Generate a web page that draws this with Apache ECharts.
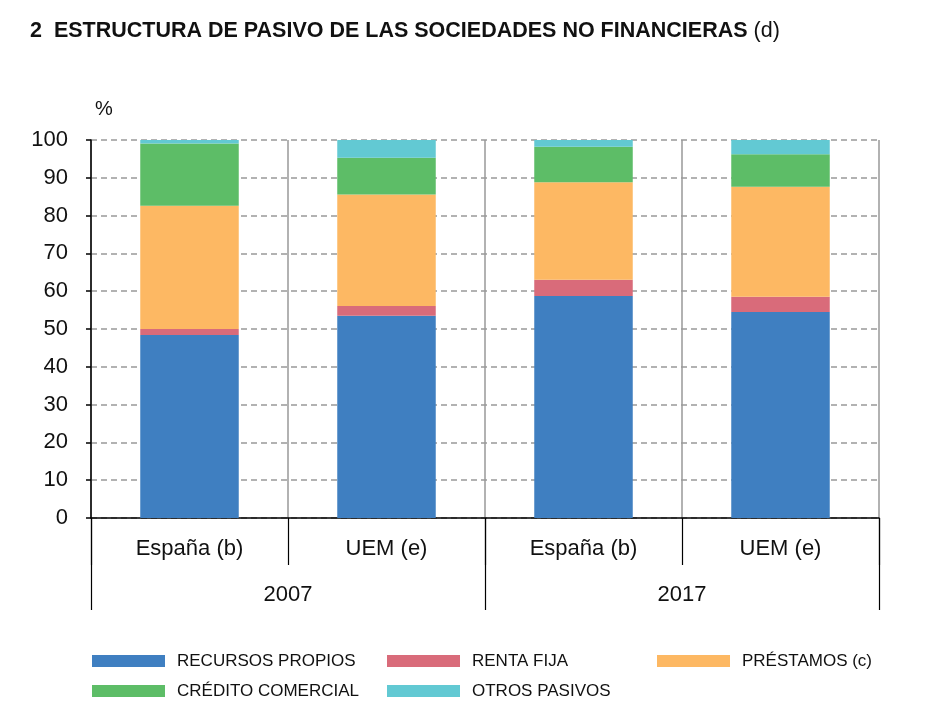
<!DOCTYPE html>
<html><head><meta charset="utf-8">
<script src="https://cdn.jsdelivr.net/npm/echarts@6/dist/echarts.min.js"></script>
<style>html,body{margin:0;padding:0;background:#fff}#c{width:950px;height:718px}</style>
</head><body><div id="c"></div>
<script>
const categories = ['España (b)', 'UEM (e)', 'España (b)', 'UEM (e)'];
const years = ['2007', '2017'];
const recursosPropios = [48.4, 53.5, 58.7, 54.5];
const rentaFija = [1.6, 2.6, 4.3, 4.0];
const prestamos = [32.6, 29.5, 25.8, 29.1];
const creditoComercial = [16.5, 9.7, 9.4, 8.6];
const otrosPasivos = [0.9, 4.7, 1.8, 3.8];
const yTicks = [0, 10, 20, 30, 40, 50, 60, 70, 80, 90, 100];

const FONT = '"Liberation Sans", Arial, sans-serif';
const chart = echarts.init(document.getElementById('c'), null, {renderer: 'canvas'});
const names = ['RECURSOS PROPIOS', 'RENTA FIJA', 'PRÉSTAMOS (c)', 'CRÉDITO COMERCIAL', 'OTROS PASIVOS'];
const colors = ['#3F7FC1', '#D96B7A', '#FDB863', '#5DBD67', '#62C9D3'];
const datasets = [recursosPropios, rentaFija, prestamos, creditoComercial, otrosPasivos];
const legendBase = {
  orient: 'vertical', top: 647, itemWidth: 73, itemHeight: 12, itemGap: 12,
  icon: 'rect',
  textStyle: {fontFamily: FONT, fontSize: 17, color: '#111', lineHeight: 18, padding: [0, 0, 0, 7]},
  selectedMode: false
};
chart.setOption({
  animation: false,
  title: {
    left: 25, top: 15,
    text: '{b|2  ESTRUCTURA DE PASIVO DE LAS SOCIEDADES NO FINANCIERAS} {n|(d)}',
    textStyle: {fontWeight: 'normal', fontFamily: FONT, fontSize: 21.5, color: '#111', rich: {
      b: {fontFamily: FONT, fontWeight: 'bold', fontSize: 21.5, color: '#111'},
      n: {fontFamily: FONT, fontWeight: 'normal', fontSize: 21.5, color: '#111'}
    }}
  },
  legend: [
    Object.assign({}, legendBase, {left: 87, data: [names[0], names[3]]}),
    Object.assign({}, legendBase, {left: 382, data: [names[1], names[4]]}),
    Object.assign({}, legendBase, {left: 652, data: [names[2]]})
  ],
  grid: {left: 91, right: 71, top: 140, bottom: 200},
  xAxis: [
    {
      type: 'category', data: categories, position: 'bottom',
      axisLine: {lineStyle: {color: '#000', width: 1.5}},
      axisTick: {show: true, interval: 0, alignWithLabel: false, length: 47, lineStyle: {color: '#000', width: 1.2}},
      axisLabel: {interval: 0, margin: 20, fontFamily: FONT, fontSize: 22, color: '#111'},
      splitLine: {show: true, interval: 0, lineStyle: {color: '#999', width: 1.5, type: 'solid'}}
    },
    {
      type: 'category', data: years, position: 'bottom', offset: 0,
      axisLine: {show: false},
      axisTick: {show: true, interval: 0, alignWithLabel: false, length: 92, lineStyle: {color: '#000', width: 1.2}},
      axisLabel: {interval: 0, margin: 66, fontFamily: FONT, fontSize: 22, color: '#111'},
      splitLine: {show: false}
    }
  ],
  yAxis: {
    type: 'value', min: 0, max: 100, interval: 10,
    name: '%', nameLocation: 'end', nameGap: 21,
    nameTextStyle: {fontFamily: FONT, fontSize: 20, color: '#111', align: 'left', padding: [0, 0, 0, 4]},
    axisLine: {show: true, lineStyle: {color: '#000', width: 1.5}},
    axisTick: {show: true, inside: false, length: 5, lineStyle: {color: '#000', width: 1.5}},
    axisLabel: {margin: 23, fontFamily: FONT, fontSize: 22, color: '#111',
      formatter: v => yTicks.includes(v) ? String(v) : ''},
    splitLine: {show: true, lineStyle: {color: '#999', width: 1.5, type: [6, 4]}}
  },
  series: datasets.map((d, i) => ({
    name: names[i], type: 'bar', stack: 'total', xAxisIndex: 0,
    barWidth: '50%', data: d, itemStyle: {color: colors[i]}
  }))
});
</script></body></html>
